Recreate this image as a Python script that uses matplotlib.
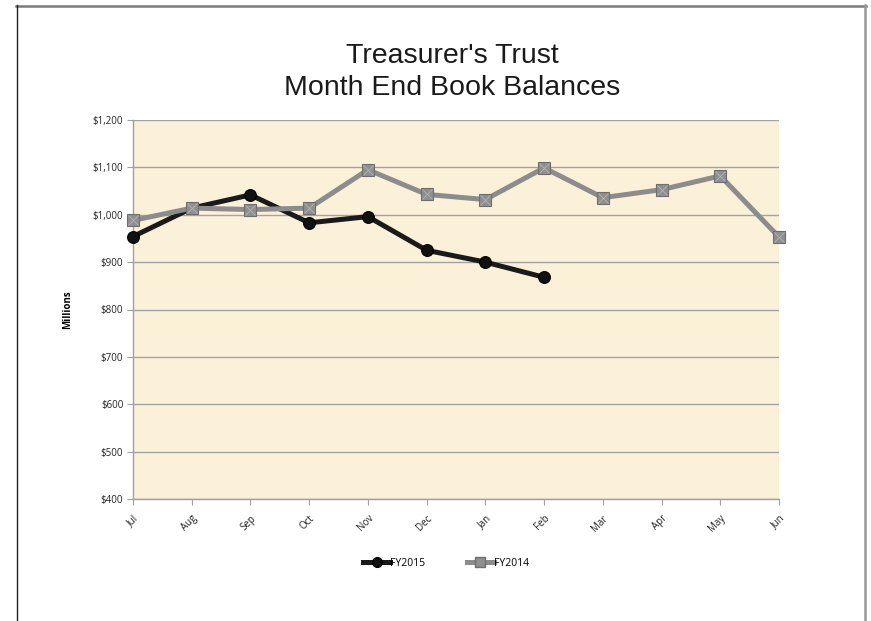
import matplotlib
matplotlib.use("Agg")
import matplotlib.pyplot as plt
from matplotlib.lines import Line2D
from matplotlib.ticker import FuncFormatter, MultipleLocator

# data (millions)
months = ["Jul", "Aug", "Sep", "Oct", "Nov", "Dec", "Jan", "Feb", "Mar", "Apr", "May", "Jun"]
fy2015 = [954, 1014, 1042, 983, 996, 925, 900, 868]
fy2014 = [988, 1014, 1011, 1014, 1095, 1043, 1032, 1099, 1036, 1053, 1082, 953]
title_lines = ["Treasurer's Trust", "Month End Book Balances"]

W, H = 871, 621
fig = plt.figure(figsize=(W / 100, H / 100), dpi=100)
fig.patch.set_facecolor("white")

# page frame
fig.add_artist(Line2D([16 / W, 866 / W], [1 - 5.5 / H, 1 - 5.5 / H], color="#7a7a7a", lw=1.8))
fig.add_artist(Line2D([16.5 / W, 16.5 / W], [0, 1 - 5 / H], color="#222222", lw=1.0))
fig.add_artist(Line2D([864.5 / W, 864.5 / W], [0, 1 - 5 / H], color="#999999", lw=1.8))

ax = fig.add_axes([133 / W, 1 - 499 / H, (779 - 133) / W, (499 - 120) / H])
ax.set_facecolor("#fbf0d8")

x15 = list(range(len(fy2015)))
x14 = list(range(len(fy2014)))

ax.plot(x15, fy2015, color="#1a1a1a", lw=3.6, marker="o", ms=8.5,
        mfc="#111111", mec="#000000", mew=0.8, zorder=3, clip_on=False, label="FY2015")
ax.plot(x14, fy2014, color="#8c8c8c", lw=3.6, marker="s", ms=8,
        mfc="#8f8f8f", mec="#6e6e6e", mew=0.8, zorder=4, clip_on=False, label="FY2014")
# the little cross inside the square markers
ax.plot(x14, fy2014, ls="none", marker="x", ms=6.5, mec="#b5b5b5", mew=0.6,
        zorder=5, clip_on=False)

ax.set_xlim(0, len(months) - 1)
ax.set_ylim(400, 1200)
ax.yaxis.set_major_locator(MultipleLocator(100))
ax.yaxis.set_major_formatter(FuncFormatter(lambda v, p: "${:,.0f}".format(v)))
ax.set_xticks(x14)
ax.set_xticklabels(months, rotation=45, ha="right", rotation_mode="anchor")

ax.grid(axis="y", color="#a3a3a3", lw=1.0)
ax.set_axisbelow(True)
for s in ["top", "right"]:
    ax.spines[s].set_visible(False)
for s in ["left", "bottom"]:
    ax.spines[s].set_color("#a0a0a0")
    ax.spines[s].set_linewidth(1.0)

ax.tick_params(axis="x", colors="#a0a0a0", labelcolor="#222222", length=4, labelsize=7, pad=6)
ax.tick_params(axis="y", colors="#a0a0a0", labelcolor="#222222", length=4, labelsize=7, pad=3)
for lab in ax.get_xticklabels() + ax.get_yticklabels():
    lab.set_family("Open Sans")

ax.set_ylabel("Millions", fontsize=7, fontweight="bold", family="Open Sans", labelpad=14)

for txt, base in zip(title_lines, [63, 95]):
    fig.text(452 / W, 1 - base / H, txt, ha="center", va="baseline",
             fontsize=20.5, family="Liberation Sans", color="#1a1a1a")

h15 = Line2D([], [], color="#1a1a1a", lw=3.6, marker="o", ms=7, mfc="#111111", mec="#000000")
h14 = Line2D([], [], color="#8c8c8c", lw=3.6, marker="s", ms=7, mfc="#8f8f8f", mec="#6e6e6e")
fig.legend([h15, h14], ["FY2015", "FY2014"], loc="center", bbox_to_anchor=(446 / W, 1 - 563 / H),
           ncol=2, frameon=False, handlelength=2.6, handletextpad=0.0, columnspacing=4.0,
           prop={"family": "Open Sans", "size": 7.5})

fig.savefig("out.png", dpi=100)
